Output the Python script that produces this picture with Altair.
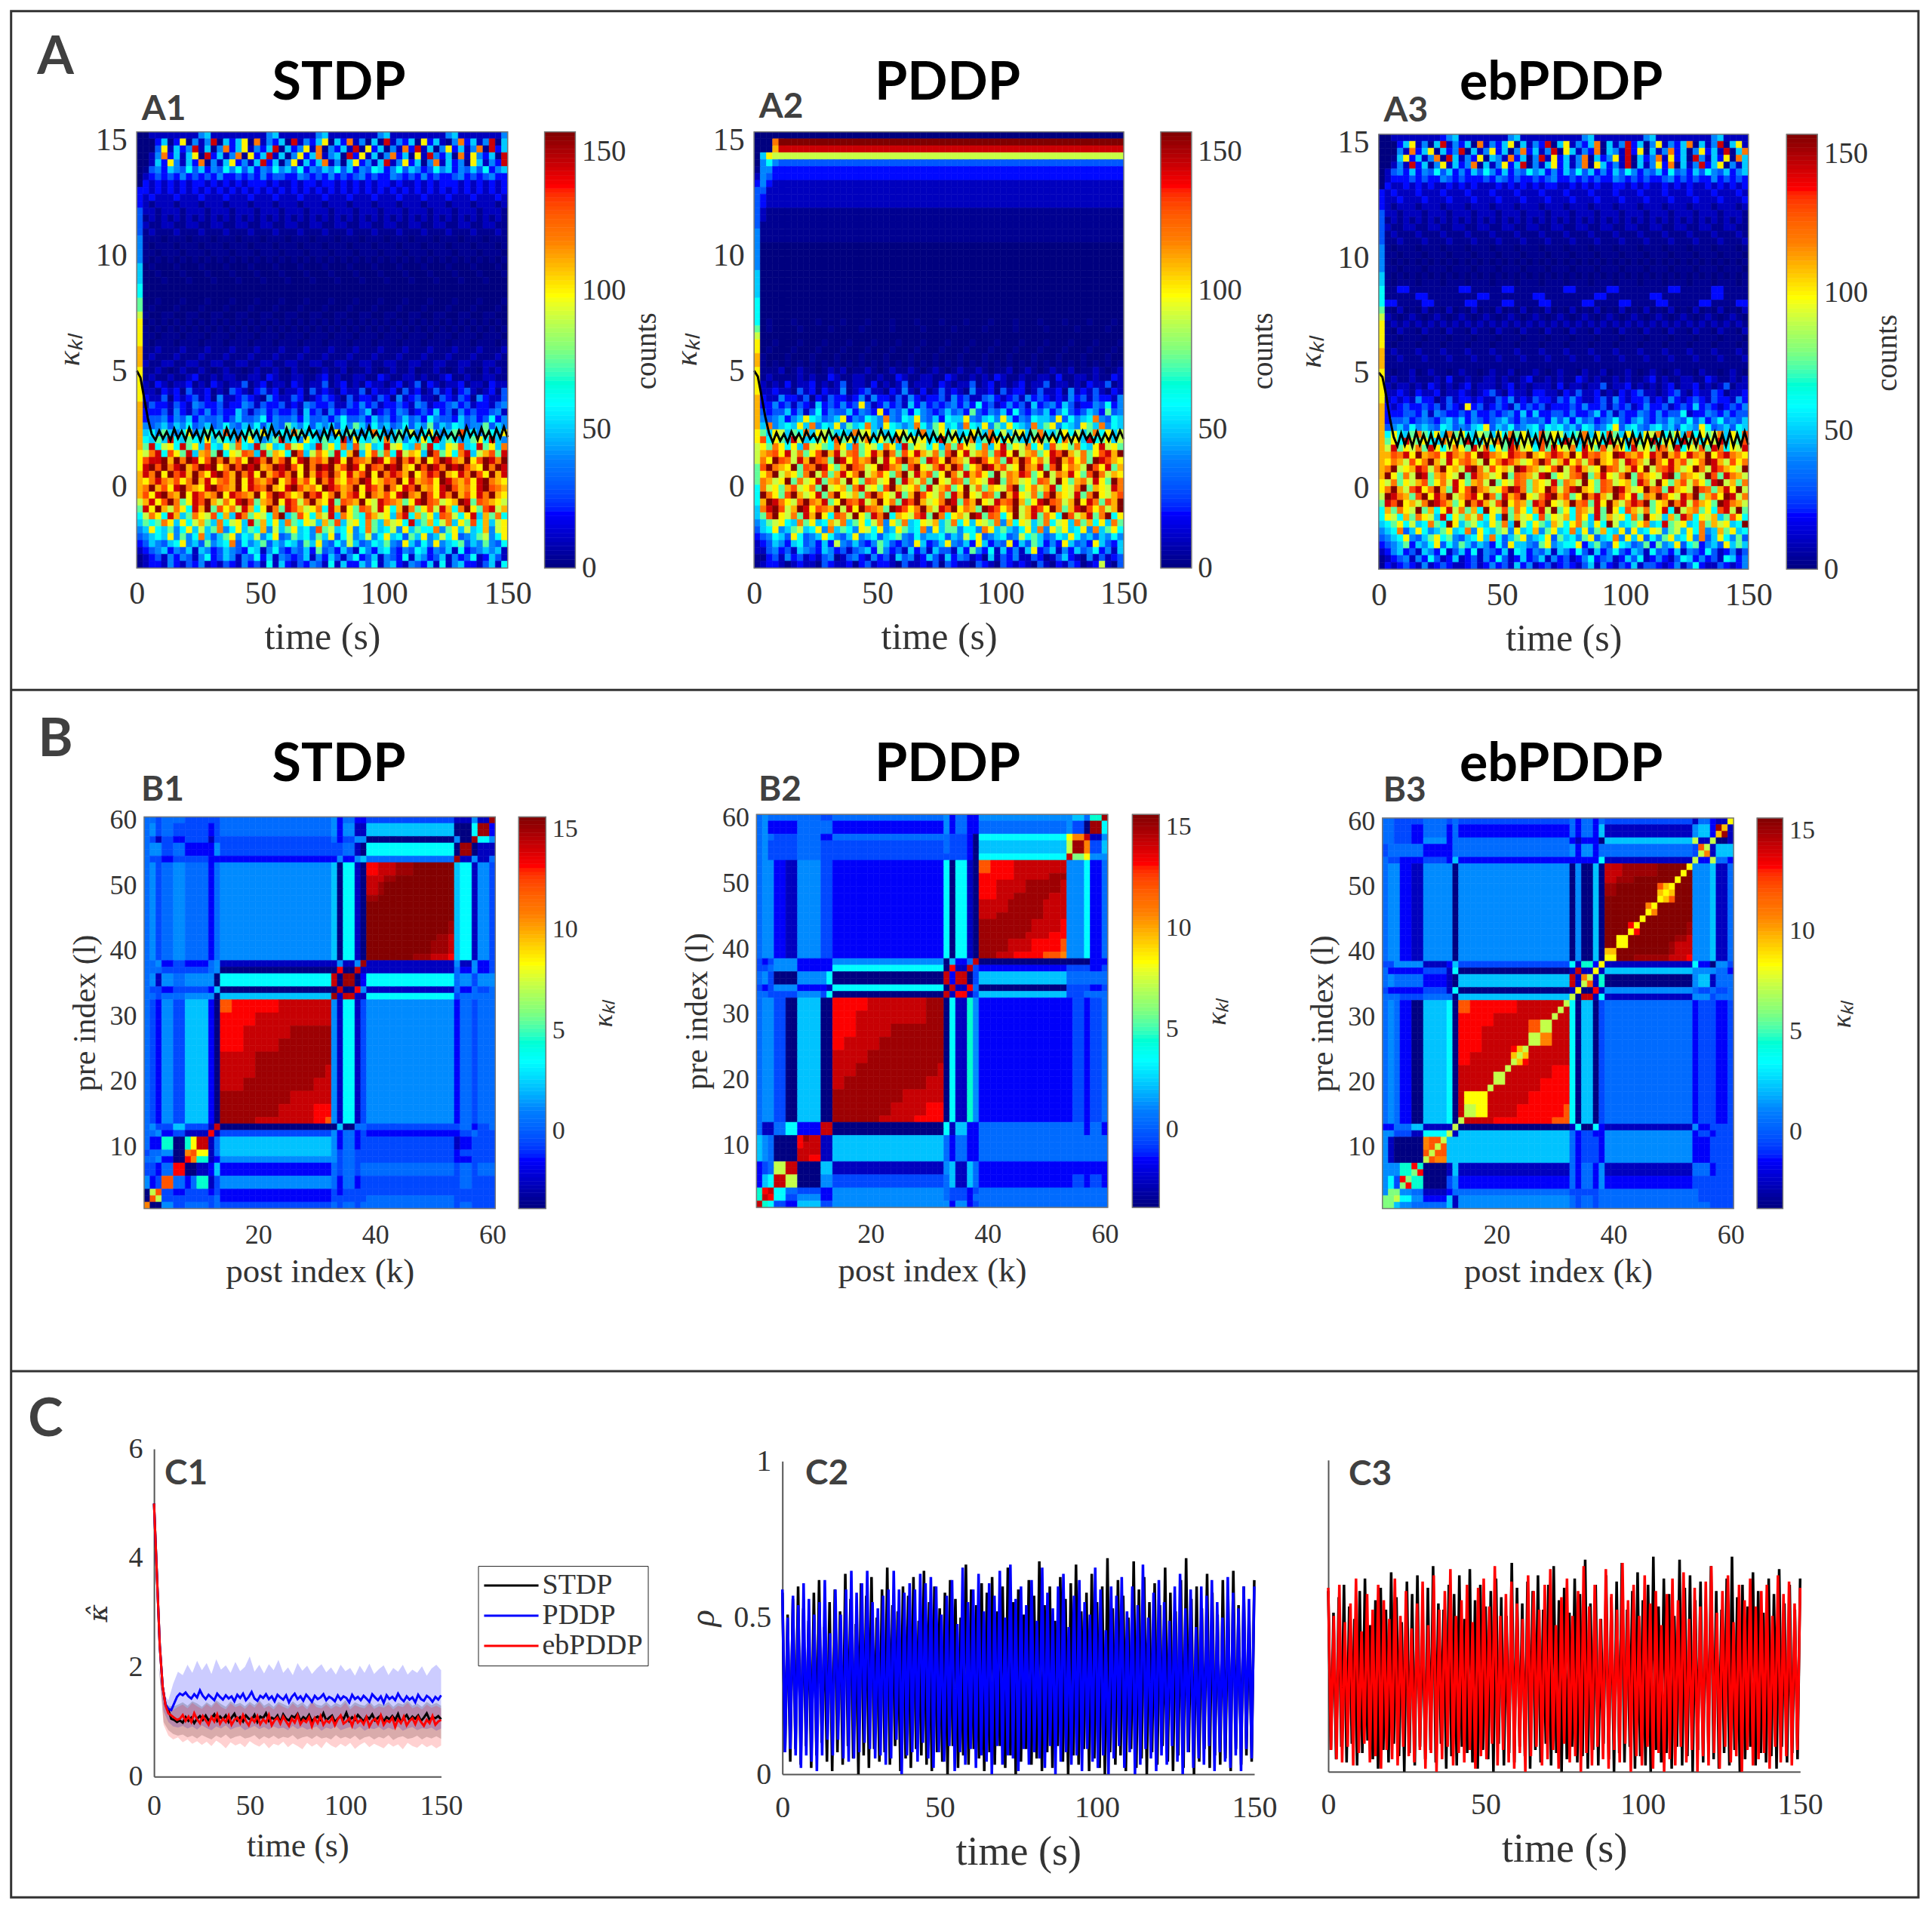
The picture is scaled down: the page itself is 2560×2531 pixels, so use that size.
# Values are estimates read by eye from the reference image, not its source data.
# The block structure of panel B and the envelopes and levels of panels A and C follow the picture,
# but the cell-by-cell noise in panel A (drawn here at a coarser 60 x 63 grid) and the individual
# peaks and jitter of the traces in panel C are hand-typed approximations, not exact readings.
import altair as alt
import pandas as pd

S = 2560 / 1568
W, H = 2544, 2515
SERIF = "Liberation Serif"
SANS = "Lato"
INK = "#333333"


def PX(p):
    return round(p * S - 8, 1)


JET = ["#00007f", "#0000ff", "#007fff", "#00ffff", "#7fff7f", "#ffff00", "#ff7f00", "#ff0000", "#7f0000"]
COUNT_LEVEL = dict(zip("0123456789abcdef", [0, 3, 10, 20, 30, 40, 50, 60, 75, 90, 100, 110, 120, 130, 145, 157]))
KAPPA_LEVEL = dict(zip("0123456789abcdefghi", [-3.8, -2.6, -1.5, -0.5, 0.4, 1.2, 2.2, 3.4, 4.5, 5.9, 7.2, 8.3, 9.5, 10.7, 12, 13.2, 14.2, 15, 15.5]))

# ---- panel A: histograms of kappa over time, rows from kappa 15.2 down to -3.4
A1_ROWS = [
"00222222225622222222256222222562222222256222222222562222222562",
"0003613a1525e1636a1c25361e2536a163c25161e25361a36215c3625e1635",
"0004a2635e2615c36a2536e1635a2c15362e1a36152c3e2615a3625c1e3625",
"0025c3626a1e3625c1a36e2615a36c2561e3a2615c361a2e5361c2a5361e26",
"00263a5263c1526a3526e3615a2636c2516a3526e25a3615c26351a6253e26",
"0145365474635475746354756473546574635476357465347563546473565",
"0234343534343533434353443354343534345343354343534334534345334",
"0323232323323232323332322323323323232323323223232333232323232",
"3|3232", "3|2322", "3|2122", "4|2212", "4|1212", "4|2112", "4|1211", "5|1110", "5|1011", "5|1101", "5|1010",
"6|0100", "6|0010", "6|0001", "7|0", "7|0", "8|0010", "8|0100", "9|1001", "a|0101", "a|1010", "a|1101", "a|1011",
"b|1121", "b|1211", "b|2112",
"a1121012112101211012112102110121120112101211201121012110212110",
"a1211211231121221122132112211231211221132112212112311211221121",
"a2132122312132122412312213212241231213221231241321223122132212",
"a2213231422312143213423122314232132241322314231242313421231423",
"a3224132342315223432153224312343214233243152342214324315322413",
"b2433243254334233542433423254334224353423343254233453423324534",
"b3334253243534336424534334263425343346234354234363425343345234",
"b3445354635445346445735445364453574453645346453754436453473545",
"b5456465745645754657465486574656475864756457465846576455846547",
"b6758657a56876d65786a6576c867575a68657c75686957a6568d675876a56",
"b7686e76876a6876d7a6568e675a76867e5a7687c68576a7e687568a7e6587",
"b8e79a7e8a6d76a8c76e8a67d9a76e8a7c6d8a67e9a76c8e76a9d67e8a6c7a",
"a9ce7da8e6bc8f7a9dc6e8ba7fd69ca8e7bf6ad8c7e9ba6fd8a7ce69bd8e7a",
"adeefbfcfeadfcfbdafecfbdfaefcdbfeafdcbfeadfcebfadfecbfadfecfbd",
"aefdfcefbdfefacfdfefbcfefdafcfefbdfeafdcfefbafdfecfefdbafcfefd",
"becfafdebfcaefdbfceafbdecfafbedfcaebdfafcedbfacedfbaecfdafbecf",
"bacecbdacfbeacdbfaecbdfacebdafcebadcfeabdcfaebcdafecbdaefcbade",
"bcfbdaefcbaefdcbfaedcfbaefdbcafedbcfaedbfcaedfbcaefdbcaefdcbfa",
"bdaefcbfaedbcfaedcbfadfecabfdeacfbdeafcbdaefcbfdaecfbdaecfbadc",
"9beadfc8aedfb9caefd8bcfaed9cfbae8dcbfa9edcb8aefdc9abfe8dcba9fe",
"8eafb9ca7ebf8dac9eb7afc8edb9ac7ebfa8dc9ea7bfc8ad9eb7cfa8de9bc7",
"79ca7eb68ca9d7b6ec8a97cf68da7b9e6ca87db9a6ce7b8a6dc97ae6b8c7a9",
"6878ca6a79b86c79a6e8b7a6c87a96b8d69a7c86b9a7e68b79c6a8d7b69a86",
"56a76857a6968c57a687b5968a675d8967a57c86795a6877c58a6967b59a67",
"45676a5857c6468a576957a45867586a47956957a67486a5697a4568957a46",
"3465467a5648567c4756846576486a5475964576854a6475a5678465854768",
"23456354626534654376257435463845364275367435476354627345656245",
"12342535425734652547362543462536425734625437265346253472364225",
"12332532435232432534272632435427263364725632543627256332462734",
]
A2_ROWS = [
"0|0", "000c|f", "000be|e", "06a|9", "0575|4", "155|3", "254|3", "353|2",
"44|2", "43|2", "43|2", "42|1", "42|1", "4|1", "5|1", "5|1", "5|0", "5|0", "5|0",
"5|0", "6|0", "6|0", "6|0", "6|0", "7|0", "7|0", "7|0", "7|0100", "8|01000", "9|0", "a|0010", "a|0100", "b|1000", "b|1010",
"a1112012110121201121012112101210121121011201210121120112101210",
"a1211112121132112211211321122113211212132112112213112212113211",
"a2121312231212412213121241222132122412312123122412212132241221",
"a2232214231322512342213252131242321522314233124223152324213225",
"b3225332413243323525332425323342534224532342534323253424332534",
"b3353424326343534a42353426353434535373423534263453642335473524",
"b4344635247354463543a35463754346453843546374354635743465384534",
"b5456356a76456a354765c5476a5463766a54675a63547665a47567c54765a",
"b6c5676a6c576a5867c65a7656c758a675c76a586a765c68a5765a86c576a6",
"a86a9687c6a98676c9a6867a976c68a7967a86c7969a68c768a7968c7a6978",
"ad7a86e9678a7d8a69c7a86d8a9a67e8a79c68da7a8669d8a7c9a6e78a69d7",
"9a8ca7a6d9a87ca6d8a97ca6e8a97a6c8da97c6ae8a9c7a6d9a8c76ae9a8c7",
"9bcdae9c8adfbe9cd8aebfc8daeb9c8dfae9bc8deaf9bc8aedfb9c8adebf9a",
"9cafdc9ebfdc8feadbcf9eadfcb8edafcb9efdac8ebfdac9efbdac8fedba9c",
"8dfcbaf8dcfea8bfdc9afecb8dfa9cebfd8acfebd9afcbe8dfacb9fdae8bfc",
"8acf9ba8cf9d8beacf9bda8cf9ebd8afc9ebda8f9cbed8af9cbea8dfc9ba8f",
"8cb9af8c9ae8bc9fa8dc9af8eb9c8fa9dc8ba9ef8cb9a8dc9fa8bc9ea8fc9b",
"7c9a8bd9ac8f9ab8ce9a8dfb9ac8e9bd8af9c8ba9df8ac9be8a9cf8ba9ec8d",
"7fca8dfb9ae8cfa9b8dfca9e8bfda9c8ebfa9dc8fbea9c8dfba9e8cfa9bd8f",
"7bfeca9dfcbe8afdce9bfac8edfb9acfe8dbfa9ecdfb8aefdc9bfaec8dbfea",
"6cefd9bfeadcbf9eafdcb8fedacfb9edfacb8fedacf9bedafc8befdac9bfed",
"68dfa9c8ebfa7dc9fa8ecf7ba9de8fc7ab9fe8dc7af9be8ca7fd9be8cf7a9d",
"5689a76c8a67b9c68a79c5a8c67a9b68c7a6a98c5b7a968c79a6c8b7a6c856",
"467a5689 67a5c6875a97a56a867c5a6885775ca68657a6c5a8a67a5c68a765".replace(" ", ""),
"345764a7456a7546a5674678547566746597a45674597864576a756465754",
"23465367453639546435864354a6346a5463a6354a36486353a6453a643658",
"22453426543653424563853426352644263853726 3526a34625364573526".replace(" ", ""),
"11342534232451245325342645236426354231624352243124632152423412",
"12332123221432231342332142232414322143214323214213243123921421",
]
A3_ROWS = [
"00222222223562222222256222222222256222222225622222222256222222",
"00036a2516e25361c2536a16253e16a2536c1625e3615a2536c1625e16a253",
"00052c36a1635e1625a3615c3625e1a6253c1652e3a1625c3615a362e16c35",
"0016a3625c1e6253a1652c3615e2a3625c1635a2e1635c2a361e5263a1c625",
"00252e3615a2635c1625a36e1526a3625c1a6352e1625a3c1625e36a1526c3",
"0245363547463536475363547563536474635364753546374536475463565",
"0233343433543433343543433434533434343354343433453434335343434",
"0322323232232323222323232323322323232233232322323232232323232",
"3|2322", "3|2232", "3|2122", "4|2212", "4|1212", "4|2112", "4|1211", "4|1121", "5|1011", "5|1101", "5|1010",
"5|1101", "6|1010", "6|1011", "7|11331111111133111", "7|1111133111111113311", "7|3311113311111331111", "8|1020", "9|2101", "a|1212", "a|1021", "a|1101", "a|1011",
"b|1211", "b|1121", "b|1111",
"a1011201211012110121120112101211021120112101210121102110121012",
"a1211211121311211221211231121211321211212112312112211321121211",
"a2122121321212312221231212221312212241223121212312231212412212",
"a2232132231223212342132213322132422312132342212342132243122313",
"a2323253312423323224352324332435322342532334232532343243325323",
"b3234334342432a34234325343423334353342434235334234363432343534",
"b3334435254334353343453636334435334635243354353447233543534463",
"b3445345435646354345643544536463645345743564354654746357454635",
"b4564756547645467a46574567476756476457a4675467564765a7456476566",
"b7a768c87a6c8a76986a7c8a67d8a9678c6a7d86a76a9c78a6d7a89c6a7d8a",
"b8a7e98a76c9a8e76a9c8e7a96d8a7e96c8a7e9a6c8ae79a6e8c7a9e6a8d7e",
"b9e8a9c8ea79ca8e9d7a8ec9a7d8ea9c7ea8d9ca7e9a8dc9e7a9d8ec7a9e8c",
"bbdceafbcdaecbdafecbaedcfbacedbfaecdbafecbdaecfbdaecbfadecbafe",
"bacb9dacfb9eacdb9facedb9acfd9beac9dfbac9edb9fcaebd9acfeb9dac9e",
"bcf9abed9cfab9efc9dab9fecb9adf9ceb9afdc9beaf9cdeb9afc9edba9fcd",
"bfa8c9fe8bca9f8ecb9af8dcb9ef8a9cdf8bea9cf8dba9ef8cba9fd8ecb9af",
"a9c8a9bd8ac9ea8bc9f8a9dc8ba9e8cb9fa8dc9ab8ec9fa8bd9ca8ef9b8ca9",
"acfb9deacfb8eadfcb9adfec8bafd9cefba8dcfeb9afcd8eba9fdc8beaf9dc",
"9fecb8dfaecf9bdeafc8ebdfa9cefbd8afceb9fdae8cbfda9ecf8bdafe9cbd",
"8edfab9cfedb8afceb9dfacb8edfa9bfcd8eafb9cedf8abfce9dba8fecb9da",
"7b8ca9f8b7ae9c8b7fa9d8ca7be9f8a7cb9e8fa7db9c8ae7f9bc8a7de9f8ba",
"7a97b8ca96e7a8b9c7a6f8b9a7d8a9b7ca6e8b9a7c8fa96b8ec7a9b68da7c9",
"678a7967c87fa68976a8c6f97a86b97ac86a7f9678ac67e89a67c8b9a67f86",
"567c46a7568a67c5a76895a67b58a67c6a58b76a5a67a95896a7c56b8a6759",
"4567a5468a785467a6c7468a567a4867 58a467c5a6a4758a67a5c46a758467".replace(" ", ""),
"345683657a47586465374a66548a5677a36854a764583856a4783564a6864",
"235634265372463725436276354626537426357436527453625437423524",
"123452537423623425374236346253423573452364723532476353427635",
"132343252343223423534263523423432462532436244323524732243235",
]
A1_LINE = [500,470,380,290,225,200,240,205,235,198,248,206,238,200,252,210,240,196,246,204,258,212,234,198,250,205,242,200,236,202,256,210,240,196,248,206,262,214,236,198,250,204,244,200,240,208,254,212,236,198,246,204,262,210,238,200,252,206,240,196,244,208,258,212,236,202,250,204,242,198,238,206,254,210,234,200,248,204,240,198,236,204,246,208,232,198,240,202,258,214,244,200,252,206,238,196,248,208,256,212]
A2_LINE = [500,475,390,300,230,190,232,196,226,190,236,200,228,194,240,204,226,192,234,198,244,202,224,188,236,198,228,192,238,200,230,190,226,196,244,204,232,190,228,194,236,200,226,186,242,206,228,190,234,196,222,188,240,202,232,192,228,184,236,198,246,204,226,188,232,194,228,190,224,192,236,200,230,186,238,196,226,190,232,198,228,194,240,200,226,188,232,196,238,202,226,190,234,192,228,196,236,198,240,204]
A3_LINE = [500,480,400,300,220,180,236,184,232,178,240,186,230,180,234,176,228,184,238,178,232,182,244,186,230,178,236,182,226,176,234,184,238,178,230,180,236,176,232,182,240,184,228,176,238,182,230,178,234,180,226,176,232,184,238,180,230,174,234,178,228,182,236,180,226,176,232,178,238,184,230,176,234,180,228,174,248,186,236,178,240,182,230,176,234,180,236,178,228,182,238,176,232,180,240,178,234,184,242,186]

# ---- panel B: coupling matrices, blocks of clustered indices
SEGMENTS = [1, 1, 1, 2, 2, 4, 1, 1, 19, 1, 1, 2, 1, 1, 15, 1, 2, 1, 2, 1]
B1_ROW_SIZES = [1, 2, 1, 2, 1, 15, 1, 1, 2, 1, 1, 19, 1, 1, 2, 1, 1, 2, 2, 1, 1, 1]
B1_ROWS = [
"4434433345242231151h", "453433234525116007h2", "43132313342355050h75", "4553422533341070h011", "433233222252564h1514",
"45345424560710h67153", "4452324511515h151523", "4443334500f0g1142523", "451545507g0h02745355", "4332332600g0f5142434",
"443445506h1g11734444", "43253620g51713524344", "4533631g006044334234", "445231f1352423223433", "42280g14652423312333",
"34450b14653433323333", "44520812553433322333", "3324f026243434434344", "523e4813542423334333", "0ae32323232333333333",
"0ea33334233333433333", "d0053434343434434333",
]
B1_GRID_LOW = ["effffggggg", "fffggggggg", "ffgggghhhh", "ffggghhhhh", "ggghhhhhhh", "ggghhhhhhg", "gghhhhhhgg", "hhhhhhgggg", "hhhhhgggff", "hhhgggggfe"]
B1_GRID_HIGH = ["fgghhiiiii", "gghiiiiiii", "ghiiiiiiii", "hiiiiiiiii", "iiiiiiiiii", "iiiiiiiiii", "iiiiiiiiih", "iiiiiiiihg", "iiiiiiihhg", "iiiiihhggf"]
B1_PATCHES = [(8,8,10,11,"8"),(9,9,10,11,"b"),(8,8,9,9,"d"),(9,9,9,9,"e"),(10,11,9,9,"b"),(8,8,8,8,"f"),(9,9,8,8,"d"),(10,11,8,8,"8"),(8,8,4,5,"2"),(9,9,4,5,"4"),(10,11,6,7,"1")]
B2_ROW_SIZES = [1, 2, 1, 2, 1, 15, 1, 1, 2, 1, 1, 19, 2, 4, 2, 2, 1, 1, 1]
B2_ROWS = [
"4544443345242255648h", "452224442524224530h7", "454334224433207bdg15", "453334333433206ahd36", "453334333333207g9b55",
"45521533270710g55724", "3235522250624g000022", "3345522270f1g3233323", "453005570g2g03644444", "3235522170g1f4033323",
"443335370g1f13633444", "45530600g07185223234", "411472gg071622444242", "65400g11642422444444", "234ag066156164222222",
"267ga055346164223232", "8fg74322543323444444", "8gf73522543324444444", "g8732633552523444444",
]
B2_GRID_LOW = ["fffggggghh", "ffgggggghh", "ffggghhhhh", "fggghhhhhh", "ggghhhhhhh", "gghhhhhhhg", "ghhhhhhhgg", "hhhhhhgggg", "hhhhhgggff", "hhhhgggfff"]
B2_GRID_HIGH = ["efffgggggg", "ffffgggghh", "ffggghhhhg", "ffgghhhhgg", "ggghhhhggg", "gghhhhhggg", "hhhhhhgggf", "hhhhhgggff", "hhhgggfffe", "hhggfffeed"]
B2_PATCHES = [(8,8,10,11,"f"),(10,11,8,8,"f"),(8,9,8,9,"g"),(9,9,11,11,"h")]
B3_ROW_SIZES = SEGMENTS[::-1]
B3_ROWS = [
"4433343434242431421b", "443324242424261562h1", "443325244212206a1a01", "3444422445252443d166", "433223262222271a2a42",
"45521550505060h55614", "3355512637182b172053", "4222231701g1b1655542", "454442106g1d18056144", "3222231701b0f1543434",
"444334406a0g17155344", "45420670g70603423323", "2244611a017072152333", "553317a1642322523233", "51000e66642332522333",
"55588016142425144233", "57388035242425233333", "59954124433334443333", "99a75261543434443333", "99654461543434444333",
]
B3_GRID_LOW = ["effffggggg", "fffggggggg", "ffgggggggg", "ffgggggggg", "fggggggggg", "ggggggggff", "gggggggfff", "ggggggffff", "gggggffffe", "gggfffffee"]
B3_GRID_HIGH = ["gghhhhiiii", "ghhiiiiiii", "hiiiiiiiii", "iiiiiiiiii", "iiiiiiiiii", "iiiiiiiiii", "iiiiiiiiih", "iiiiiiiihg", "iiiiiiihgg", "iiihhhhggf"]
B3_PATCHES = [
(58,58,59,59,"h"),(59,59,59,59,"c"),(58,58,58,58,"c"),(59,59,58,58,"h"),(55,55,56,56,"e"),(56,56,56,56,"a"),(55,55,55,55,"a"),(56,56,55,55,"d"),
(35,35,36,36,"d"),(36,36,36,36,"a"),(35,35,35,35,"a"),(36,36,35,35,"e"),
(8,8,11,11,"d"),(9,10,11,11,"e"),(11,11,11,11,"a"),(8,8,10,10,"d"),(9,9,10,10,"e"),(10,10,10,10,"a"),(11,11,10,10,"e"),(8,8,9,9,"e"),(9,9,9,9,"a"),(10,11,9,9,"e"),(8,8,8,8,"a"),(9,9,8,8,"e"),(10,11,8,8,"d"),
(4,5,6,7,"8"),(6,6,7,7,"f"),(7,7,7,7,"8"),(6,6,6,6,"9"),(7,7,6,6,"f"),(4,4,5,5,"f"),(5,5,5,5,"9"),(4,4,4,4,"9"),(5,5,4,4,"f"),
(14,14,14,14,"a"),(15,18,15,18,"b"),(15,16,15,16,"a"),(19,19,19,19,"a"),(20,21,20,21,"a"),(22,22,22,22,"a"),(23,25,23,25,"c"),(23,23,23,23,"a"),(24,24,24,24,"a"),(25,25,25,25,"a"),(23,23,25,25,"f"),(25,25,23,23,"f"),
(26,27,26,27,"a"),(28,29,26,27,"d"),(26,27,28,29,"e"),(28,29,28,29,"a"),(30,30,30,30,"a"),(31,31,31,31,"a"),(32,32,32,32,"a"),
(39,39,39,39,"b"),(40,40,40,40,"c"),(39,39,40,40,"c"),(40,40,39,39,"b"),(41,42,41,42,"b"),(43,43,43,43,"b"),(44,44,44,44,"b"),(43,43,44,44,"f"),(44,44,43,43,"f"),(45,45,45,45,"b"),
(46,46,46,46,"b"),(47,47,47,47,"b"),(46,46,47,47,"d"),(47,47,46,46,"d"),(48,50,48,50,"c"),(49,49,49,49,"b"),(48,48,48,48,"b"),(50,50,50,50,"b"),(48,48,50,50,"e"),(50,50,48,48,"e"),(51,51,51,51,"b"),(52,52,52,52,"b"),(53,53,53,53,"b"),(57,57,57,57,"a"),
]

# ---- panel C
KAPPA_STDP = [500,370,240,165,132,122,106,104,100,103,99,109,102,108,98,106,111,104,112,103,107,114,102,110,105,112,100,108,115,103,109,101,112,106,104,113,100,110,107,116,102,108,105,112,100,114,106,103,111,108,115,102,109,105,113,101,107,110,104,116,103,108,112,100,106,111,105,117,102,109,104,113,107,101,110,106,114,103,108,112,101,109,105,111,104,115,100,107,113,103,110,106,112,102,108,116,104,109,107,111,105]
KAPPA_PDDP = [500,370,240,165,132,124,122,134,146,152,149,154,147,143,151,145,158,148,142,150,145,140,152,146,141,149,143,147,138,150,144,152,140,146,155,143,139,148,144,151,142,147,138,150,145,141,149,136,146,152,142,147,139,150,144,137,148,142,145,151,140,146,143,138,149,141,147,144,136,150,142,146,140,148,143,137,151,145,140,147,135,149,142,146,140,152,143,138,147,141,145,136,150,142,139,148,144,137,146,141,149]
KAPPA_EB = [500,370,240,165,130,116,112,108,104,106,113,102,110,100,116,105,98,111,103,95,109,101,114,97,106,100,112,95,104,108,98,113,102,94,107,100,111,96,105,99,113,94,103,108,97,110,101,93,106,99,112,96,104,100,109,92,107,98,111,95,103,99,108,94,105,112,97,101,107,93,110,99,104,96,109,92,102,106,97,112,95,103,100,108,91,105,98,110,94,102,107,96,109,100,93,104,98,111,95,101,104]
BAND_PDDP_HI = [500,200,150,140,170,192,186,205,190,212,195,208,188,215,196,204,190,210,193,201,220,192,205,189,206,195,214,190,200,186,208,194,203,188,198,206,191,200,187,205,193,199,185,203,190,207,188,197,204,186,199,192,205,187,196,190,202,185,198,205,195]
BAND_PDDP_LO = [500,200,120,100,92,90,93,88,92,86,94,89,85,92,88,94,86,90,92,85,89,93,87,91,86,92,88,90,85,93,87,91,86,89,92,84,90,87,93,85,88,91,86,92,84,89,87,91,85,90,86,92,84,88,91,85,89,87,90,84,88]
BAND_STDP_HI = [500,200,140,130,128,132,136,130,138,134,128,136,130,140,133,128,138,132,135,129,137,131,140,130,135,128,137,133,129,138,131,136,128,139,132,130,137,129,135,131,140,128,136,132,130,138,129,134,131,137,128,135,132,139,130,134,128,137,131,135,130]
BAND_STDP_LO = [500,200,100,85,78,75,77,72,75,70,76,72,68,75,71,77,69,73,75,70,72,76,68,74,70,75,69,73,71,76,68,72,74,69,75,70,72,68,76,70,73,69,75,67,72,74,68,73,70,76,67,72,74,69,71,75,68,73,70,74,69]
BAND_EB_HI = [500,200,135,125,122,128,132,125,135,129,124,133,126,137,128,123,134,127,131,124,133,126,137,125,130,123,133,128,124,134,126,131,123,136,127,125,132,124,130,126,135,123,131,127,125,134,124,129,126,132,123,130,127,135,125,129,123,132,126,130,125]
BAND_EB_LO = [500,200,95,75,68,72,63,68,60,65,58,64,56,66,60,52,63,57,61,54,65,59,55,62,52,60,57,64,54,61,56,50,62,55,60,52,64,57,53,60,55,62,51,58,63,54,60,56,52,61,55,59,50,62,56,53,60,54,58,52,57]
RHO_STDP = [58,7,51,4,56,8,60,3,53,9,49,2,58,6,62,10,47,4,55,1,59,7,52,3,64,9,56,5,48,0,61,6,57,2,63,8,50,4,59,7,66,3,54,9,52,1,60,5,57,2,63,8,49,6,65,3,55,1,60,7,53,4,58,0,62,9,56,2,50,6,67,3,59,8,54,5,61,1,58,7,63,3,52,9,60,2,66,6,55,0,59,4,51,8,62,3,57,5,68,1,54,7,60,2,49,9,63,4,56,0,61,6,67,3,52,8,58,1,64,5,55,2,60,0,69,7,53,3,62,6,57,1,50,8,68,2,59,5,63,0,55,7,61,3,54,9,66,4,58,1,52,6,62,2,69,7,56,0,60,4,53,8,64,2,58,6,51,3,62,5,57,1,65,8,54,3,60,6,52,4,62]
RHO_PDDP = [59,7,50,8,57,6,54,2,61,6,56,4,51,1,55,6,62,11,45,6,59,11,51,5,59,4,65,5,58,7,61,10,65,8,55,5,53,6,57,3,59,5,65,11,59,0,58,6,61,7,59,4,64,10,61,5,63,2,60,7,51,4,57,9,62,1,48,7,66,3,55,8,59,2,64,6,52,4,61,0,57,9,65,3,50,6,67,5,56,1,60,8,54,3,62,7,49,5,66,2,58,9,53,0,60,4,64,7,47,3,57,6,62,1,55,8,51,4,66,2,59,6,46,0,60,5,57,9,63,2,52,7,60,0,54,3,67,8,50,5,58,1,62,6,55,3,49,9,60,4,64,0,53,7,59,2,47,5,60,3,57,9,62,1,55,7,50,4,63,2,58,6,53,1,60,8,56,5,60]
RHO_EB = [59,7,50,4,60,3,48,8,54,2,62,6,45,9,57,3,52,5,60,1,55,7,49,4,62,2,50,8,58,5,46,3,54,7,61,1,47,6,63,0,52,4,58,8,65,2,50,6,55,3,60,7,48,1,59,5,62,4,53,9,66,2,50,7,57,3,61,1,54,6,49,0,63,5,58,8,52,2,60,4,65,7,47,1,56,9,62,3,50,5,58,0,66,6,53,2,60,8,49,4,65,1,57,7,52,3,67,9,55,0,60,5,50,2,63,8,54,1,58,6,47,0,57,4,62,2,55,8,64,3,49,7,59,0,53,5,61,2,66,6,51,1,58,8,63,3,48,5,60,0,55,7,62,2,53,4,58,6,60,1,50,8,63,3,57,5,61,2,54,7,59]


def a_frame(rows):
    recs = []
    for r, spec in enumerate(rows):
        if "|" in spec:
            head, tail = spec.split("|")
            spec = head + tail * 60
        spec = spec[:60]
        spec = spec + spec[-1] * (60 - len(spec))
        top = 15.35 - 0.3 * r
        for c, ch in enumerate(spec):
            recs.append({"t0": c * 2.5, "t1": (c + 1) * 2.5, "k0": top - 0.3, "k1": top, "v": COUNT_LEVEL[ch]})
    return pd.DataFrame(recs)


def b_frame(rows, sizes, low, high, patches):
    col_of = []
    for i, n in enumerate(SEGMENTS):
        col_of += [i] * n
    row_of = []
    for i, n in enumerate(sizes):
        row_of += [i] * n
    recs = []
    for r in range(60):
        idx = 60 - r
        line = rows[row_of[r]]
        for c in range(1, 61):
            ch = line[col_of[c - 1]]
            if 14 <= idx <= 32 and 14 <= c <= 32:
                ch = low[(32 - idx) * len(low) // 19][(c - 14) * len(low) // 19]
            if 39 <= idx <= 53 and 39 <= c <= 53:
                ch = high[(53 - idx) * len(high) // 15][(c - 39) * len(high) // 15]
            for c0, c1, r0, r1, p in patches:
                if c0 <= c <= c1 and r0 <= idx <= r1:
                    ch = p
            recs.append({"c0": c - 0.5, "c1": c + 0.5, "r0": idx - 0.5, "r1": idx + 0.5, "v": KAPPA_LEVEL[ch]})
    return pd.DataFrame(recs)


def blank():
    return alt.Chart(alt.Data(values=[{"k": 1}]))


def text(s, px, py, size, font=SERIF, weight="normal", color=INK, angle=0, style="normal"):
    return blank().mark_text(text=s, font=font, fontSize=size, fontWeight=weight, color=color, angle=angle,
                             fontStyle=style, align="center", baseline="middle").encode(
        x=alt.value(PX(px)), y=alt.value(PX(py)))


def box(l, r, t, b, color="#777777", width=1.5):
    return blank().mark_rect(filled=False, stroke=color, strokeWidth=width).encode(
        x=alt.value(PX(l)), x2=alt.value(PX(r)), y=alt.value(PX(t)), y2=alt.value(PX(b)))


def x_axis(pb, vals, lsize, title, tsize, domain=False, pad=8, tpad=8):
    return alt.Axis(orient="bottom", offset=PX(pb) - H, values=vals, format="~r", grid=False, domain=domain,
                    domainColor="#555555", domainWidth=2, tickSize=0, labelFont=SERIF,
                    labelFontSize=lsize, labelColor=INK, labelPadding=pad, labelFlush=False, labelOverlap=False,
                    title=title, titleFont=SERIF, titleFontSize=tsize, titleFontWeight="normal",
                    titleColor=INK, titlePadding=tpad)


def y_axis(pl, vals, lsize, title, tsize, domain=False, pad=10, tpad=14, italic=False, labels=True, tfont=SERIF):
    return alt.Axis(orient="left", offset=-PX(pl), values=vals, format="~r", grid=False, domain=domain,
                    domainColor="#555555", domainWidth=2, tickSize=0, labelFont=SERIF,
                    labelFontSize=lsize, labelColor=INK, labelPadding=pad, labelFlush=False, labelOverlap=False,
                    labels=labels, title=title, titleFont=tfont, titleFontSize=tsize, titleFontWeight="normal",
                    titleFontStyle="italic" if italic else "normal", titleColor=INK, titlePadding=tpad)


def heat(df, xf, yf, xdom, ydom, rect, cdom, xax, yax):
    l, r, t, b = rect
    cscale = alt.Scale(domain=cdom, range=JET, nice=False, zero=False)
    xs = alt.Scale(domain=xdom, range=[PX(l), PX(r)], nice=False, zero=False)
    ys = alt.Scale(domain=ydom, range=[PX(b), PX(t)], nice=False, zero=False)
    return alt.Chart(df).mark_rect(strokeWidth=0.6).encode(
        x=alt.X(xf[0], type="quantitative", scale=xs, axis=xax),
        x2=alt.X2(xf[1]),
        y=alt.Y(yf[0], type="quantitative", scale=ys, axis=yax),
        y2=alt.Y2(yf[1]),
        color=alt.Color("v:Q", scale=cscale, legend=None),
        stroke=alt.Stroke("v:Q", scale=cscale, legend=None),
    )


def colorbar(cdom, bar, rect, ticks, lsize):
    _, _, t, b = rect
    cb_l, cb_r = bar
    steps = 100
    span = cdom[1] - cdom[0]
    df = pd.DataFrame({"a": [0] * steps, "z": [1] * steps,
                       "lo": [cdom[0] + span * i / steps for i in range(steps)],
                       "hi": [cdom[0] + span * (i + 1) / steps for i in range(steps)],
                       "v": [cdom[0] + span * (i + 0.5) / steps for i in range(steps)]})
    cscale = alt.Scale(domain=cdom, range=JET, nice=False, zero=False)
    yaxis = alt.Axis(orient="right", offset=PX(cb_r) - W, values=ticks, format="~r", grid=False, domain=False, tickSize=0,
                     labelFont=SERIF, labelFontSize=lsize, labelColor=INK, labelPadding=8, labelFlush=False,
                     labelOverlap=False, title=None)
    return alt.Chart(df).mark_rect(strokeWidth=0.6).encode(
        x=alt.X("a:Q", scale=alt.Scale(domain=[0, 1], range=[PX(cb_l), PX(cb_r)], nice=False, zero=False), axis=None),
        x2=alt.X2("z"),
        y=alt.Y("lo:Q", scale=alt.Scale(domain=cdom, range=[PX(b), PX(t)], nice=False, zero=False), axis=yaxis),
        y2=alt.Y2("hi"),
        color=alt.Color("v:Q", scale=cscale, legend=None),
        stroke=alt.Stroke("v:Q", scale=cscale, legend=None),
    )


def series(values, scale=1.0):
    n = len(values) - 1
    return pd.DataFrame({"t": [i * 150 / n for i in range(n + 1)], "v": [v * scale for v in values]})


def line(values, rect, ydom, color, width=3, scale=0.01):
    l, r, t, b = rect
    return alt.Chart(series(values, scale)).mark_line(color=color, strokeWidth=width).encode(
        x=alt.X("t:Q", scale=alt.Scale(domain=[0, 150], range=[PX(l), PX(r)], nice=False, zero=False), axis=None),
        y=alt.Y("v:Q", scale=alt.Scale(domain=ydom, range=[PX(b), PX(t)], nice=False, zero=False), axis=None),
    )


layers = []

# frames
layers.append(box(9, 1557, 9, 1540, "#333333", 3))
for py in (560, 1113):
    layers.append(blank().mark_rule(color="#333333", strokeWidth=3).encode(
        x=alt.value(PX(9)), x2=alt.value(PX(1557)), y=alt.value(PX(py))))

# A panels
A_PANELS = [
    (A1_ROWS, A1_LINE, (111, 412, 107, 461), (442, 467), 525),
    (A2_ROWS, A2_LINE, (612, 912, 107, 461), (942, 967), 1025),
    (A3_ROWS, A3_LINE, (1119, 1419, 109, 462), (1450, 1475), 1532),
]
for rows, mean, rect, bar, lab in A_PANELS:
    l, r, t, b = rect
    layers.append(heat(a_frame(rows), ("t0", "t1"), ("k0", "k1"), [0, 150], [-3.55, 15.35], rect, [0, 157],
                       x_axis(b, [0, 50, 100, 150], 42, "time (s)", 50, pad=14, tpad=12),
                       y_axis(l, [0, 5, 10, 15], 42, "κₖₗ", 42, pad=13, tpad=13, italic=True)))
    layers.append(line(mean, rect, [-3.55, 15.35], "#000000", 3))
    layers.append(box(l, r, t, b))
    layers.append(colorbar([0, 157], bar, rect, [0, 50, 100, 150], 39))
    layers.append(box(bar[0], bar[1], t, b))
    layers.append(text("counts", lab, (t + b) / 2 + 1, 39, angle=270))

# B panels
B_PANELS = [
    (B1_ROWS, B1_ROW_SIZES, B1_GRID_LOW, B1_GRID_HIGH, B1_PATCHES, (117, 402, 663, 981), (421, 443), 490),
    (B2_ROWS, B2_ROW_SIZES, B2_GRID_LOW, B2_GRID_HIGH, B2_PATCHES, (614, 899, 661, 980), (919, 941), 988),
    (B3_ROWS, B3_ROW_SIZES, B3_GRID_LOW, B3_GRID_HIGH, B3_PATCHES, (1122, 1407, 664, 981), (1426, 1447), 1495),
]
for rows, sizes, low, high, patches, rect, bar, lab in B_PANELS:
    l, r, t, b = rect
    layers.append(heat(b_frame(rows, sizes, low, high, patches), ("c0", "c1"), ("r0", "r1"), [0.5, 60.5], [0.5, 60.5],
                       rect, [-3.85, 15.6],
                       x_axis(b, [20, 40, 60], 36, "post index (k)", 45, pad=18, tpad=8),
                       y_axis(l, [10, 20, 30, 40, 50, 60], 36, "pre index (l)", 42, pad=10, tpad=11)))
    layers.append(box(l, r, t, b))
    layers.append(colorbar([-3.85, 15.6], bar, rect, [0, 5, 10, 15], 34))
    layers.append(box(bar[0], bar[1], t, b))
    layers.append(text("κₖₗ", lab, (t + b) / 2 + 1, 36, angle=270, style="italic"))

# C1
C1 = (125, 358, 1176, 1442)
l, r, t, b = C1
for hi, lo, fill, op in ((BAND_PDDP_HI, BAND_PDDP_LO, "#0000ff", 0.2),
                         (BAND_STDP_HI, BAND_STDP_LO, "#000000", 0.18),
                         (BAND_EB_HI, BAND_EB_LO, "#ff0000", 0.18)):
    n = len(hi) - 1
    band = pd.DataFrame({"t": [i * 150 / n for i in range(n + 1)], "hi": [v / 100 for v in hi], "lo": [v / 100 for v in lo]})
    layers.append(alt.Chart(band).mark_area(color=fill, opacity=op).encode(
        x=alt.X("t:Q", scale=alt.Scale(domain=[0, 150], range=[PX(l), PX(r)], nice=False, zero=False), axis=None),
        y=alt.Y("hi:Q", scale=alt.Scale(domain=[0, 6], range=[PX(b), PX(t)], nice=False, zero=False), axis=None),
        y2=alt.Y2("lo:Q")))
C1_NAMES = ["STDP", "PDDP", "ebPDDP"]
C1_COLORS = ["#000000", "#0000ff", "#ff0000"]
frames = []
for name, vals in zip(C1_NAMES, (KAPPA_STDP, KAPPA_PDDP, KAPPA_EB)):
    d = series(vals, 0.01)
    d["rule"] = name
    frames.append(d)
layers.append(alt.Chart(pd.concat(frames)).mark_line(strokeWidth=3).encode(
    x=alt.X("t:Q", scale=alt.Scale(domain=[0, 150], range=[PX(l), PX(r)], nice=False, zero=False),
            axis=x_axis(b, [0, 50, 100, 150], 38, "time (s)", 44, domain=True, pad=20, tpad=12)),
    y=alt.Y("v:Q", scale=alt.Scale(domain=[0, 6], range=[PX(b), PX(t)], nice=False, zero=False),
            axis=y_axis(l, [0, 2, 4, 6], 38, "κ̂", 36, domain=True, pad=15, tpad=21, italic=True, tfont="DejaVu Serif")),
    color=alt.Color("rule:N", scale=alt.Scale(domain=C1_NAMES, range=C1_COLORS),
                    legend=alt.Legend(orient="none", legendX=PX(388), legendY=PX(1271), title=None, symbolType="stroke",
                                      symbolSize=5200, symbolStrokeWidth=3, labelFont=SERIF, labelFontSize=38,
                                      labelColor=INK, strokeColor="#222222", fillColor="white", padding=6,
                                      rowPadding=0, clipHeight=40, labelOffset=3)),
))

# C2, C3
C2 = (635, 1018, 1186, 1440)
C3 = (1078, 1461, 1185, 1438)
for rect, vals, colour, show in ((C2, RHO_PDDP, "#0000ff", True), (C3, RHO_EB, "#ff0000", False)):
    l, r, t, b = rect
    base = alt.Chart(series(RHO_STDP, 0.01)).mark_line(color="#000000", strokeWidth=3.5).encode(
        x=alt.X("t:Q", scale=alt.Scale(domain=[0, 150], range=[PX(l), PX(r)], nice=False, zero=False),
                axis=x_axis(b, [0, 50, 100, 150], 40, "time (s)", 54, domain=True, pad=24, tpad=12)),
        y=alt.Y("v:Q", scale=alt.Scale(domain=[0, 1], range=[PX(b), PX(t)], nice=False, zero=False),
                axis=y_axis(l, [0, 0.5, 1], 40, "ρ" if show else None, 46, domain=True, pad=15, tpad=16,
                            italic=True, labels=show)),
    )
    layers.append(base)
    layers.append(line(vals, rect, [0, 1], colour, 3.5))

# letters and titles
for s, x, y in (("A", 45, 47), ("B", 45, 601), ("C", 37, 1153)):
    layers.append(text(s, x, y, 70, SANS, "bold", "#404040"))
for y in (68, 621):
    for s, x in (("STDP", 275), ("PDDP", 769), ("ebPDDP", 1267)):
        layers.append(text(s, x, y, 70, SANS, "bold", "#000000"))
for s, x, y in (("A1", 133, 89), ("A2", 634, 87), ("A3", 1141, 90), ("B1", 132, 641), ("B2", 633, 641), ("B3", 1140, 642),
                ("C1", 151, 1196), ("C2", 671, 1196), ("C3", 1112, 1197)):
    layers.append(text(s, x, y, 46, SANS, "bold", "#404040"))

chart = alt.layer(*layers).resolve_scale(x="independent", y="independent", color="independent", stroke="independent").resolve_axis(
    x="independent", y="independent").resolve_legend(color="independent").properties(
    width=W, height=H, autosize=alt.AutoSizeParams(type="none"), padding=0, background="white").configure_view(stroke=None)

chart.save("out.html", embed_options={"renderer": "svg", "actions": False})
